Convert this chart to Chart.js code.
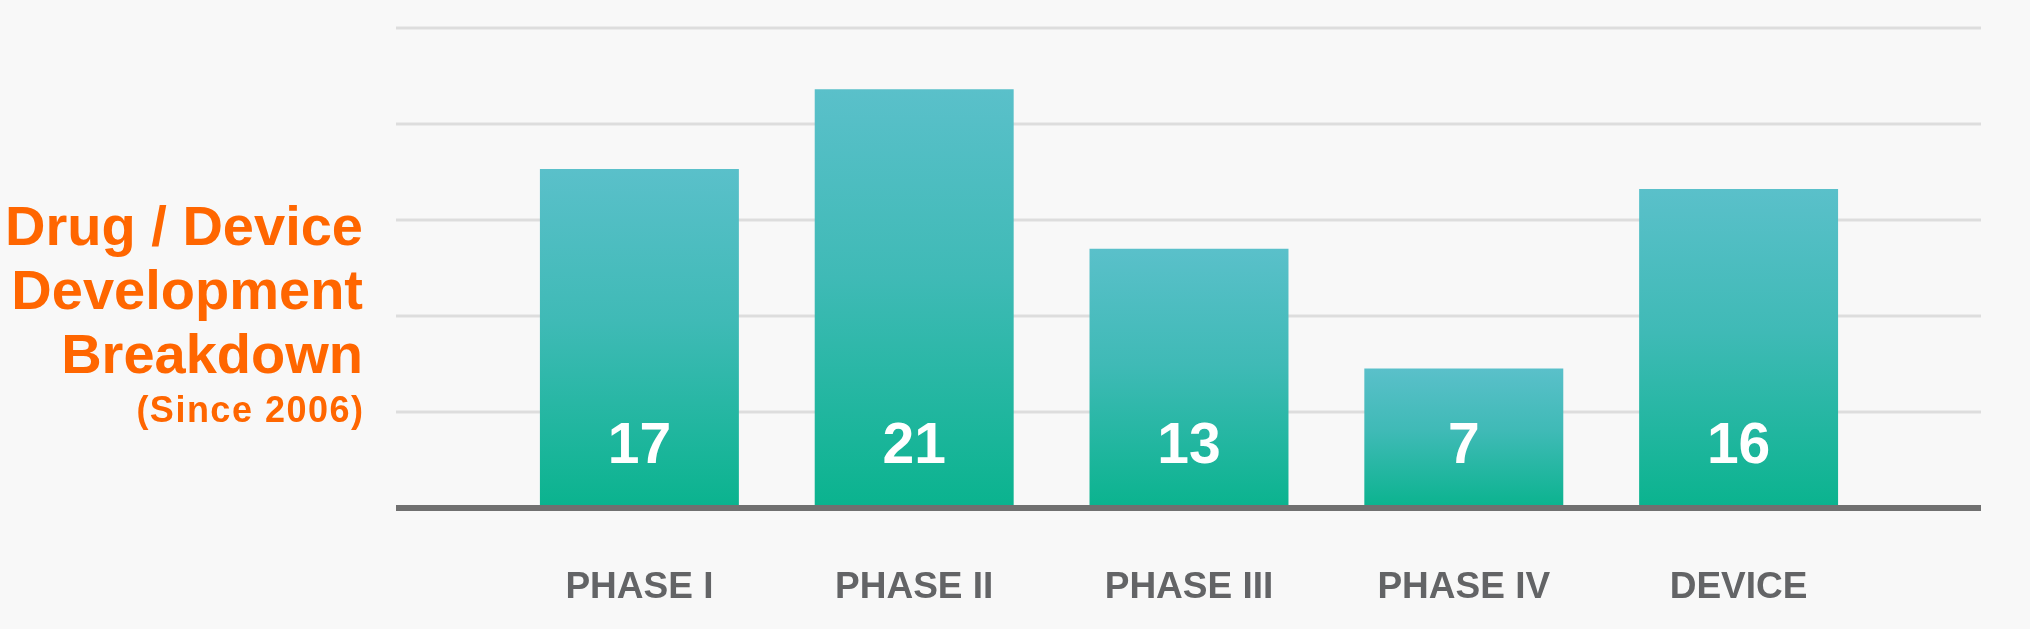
<!DOCTYPE html>
<html>
<head>
<meta charset="utf-8">
<script src="https://cdn.jsdelivr.net/npm/chart.js@4.4.1/dist/chart.umd.min.js"></script>
<style>
  html, body { margin: 0; padding: 0; background: #f8f8f8; }
  #wrap { position: relative; width: 2030px; height: 629px; }
  #title {
    position: absolute; right: calc(2030px - 363px); top: 194px;
    text-align: right; color: #ff6600;
    font-family: "Liberation Sans", Arial, sans-serif; font-weight: bold;
    white-space: nowrap;
  }
  #title .big { font-size: 56px; line-height: 64px; }
  #title .small { font-size: 36px; line-height: 47px; letter-spacing: 1.5px; margin-right: -1.5px; }
  canvas { position: absolute; left: 0; top: 0; }
</style>
</head>
<body>
<div id="wrap">
  <canvas id="chart" width="2030" height="629"></canvas>
  <div id="title">
    <div class="big">Drug / Device</div>
    <div class="big">Development</div>
    <div class="big">Breakdown</div>
    <div class="small">(Since 2006)</div>
  </div>
</div>
<script>
// Data
const categories = ['PHASE I', 'PHASE II', 'PHASE III', 'PHASE IV', 'DEVICE'];
const counts     = [17, 21, 13, 7, 16];
// Grid lines are evenly spaced but not on round numbers
const gridValues = [0, 4.814, 9.628, 14.442, 19.256, 24.07];

const BAR_TOP    = '#5ac0ca';
const BAR_BOTTOM = '#0ab38e';

function barGradient(ctx) {
  const chart = ctx.chart;
  const y = chart.scales.y;
  if (!chart.chartArea || !y || ctx.raw === undefined) return BAR_BOTTOM;
  const top = y.getPixelForValue(ctx.raw);
  const bottom = y.getPixelForValue(0);
  const g = chart.ctx.createLinearGradient(0, top, 0, bottom);
  g.addColorStop(0, BAR_TOP);
  g.addColorStop(0.45, '#3fbab6');
  g.addColorStop(1, BAR_BOTTOM);
  return g;
}

// Grid lines run wider than the bar area, and the base line is drawn on top of the bars
const gridPlugin = {
  id: 'wideGrid',
  beforeDatasetsDraw(chart) {
    const { ctx, chartArea } = chart;
    const y = chart.scales.y;
    const left = chartArea.left - 106;
    const right = chartArea.right + 105;
    ctx.save();
    ctx.strokeStyle = '#dddddd';
    ctx.lineWidth = 3;
    y.ticks.forEach(t => {
      if (t.value === 0) return;
      const py = Math.round(y.getPixelForValue(t.value));
      ctx.beginPath();
      ctx.moveTo(left, py);
      ctx.lineTo(right, py);
      ctx.stroke();
    });
    ctx.restore();
  },
  afterDatasetsDraw(chart) {
    const { ctx, chartArea } = chart;
    const y = chart.scales.y;
    const left = chartArea.left - 106;
    const right = chartArea.right + 105;
    const py = y.getPixelForValue(0);
    ctx.save();
    ctx.strokeStyle = '#707070';
    ctx.lineWidth = 6;
    ctx.beginPath();
    ctx.moveTo(left, py);
    ctx.lineTo(right, py);
    ctx.stroke();

    // value labels sit at a fixed height above the base line
    const meta = chart.getDatasetMeta(0);
    ctx.fillStyle = '#ffffff';
    ctx.font = 'bold 57px "Liberation Sans", Arial, sans-serif';
    ctx.textAlign = 'center';
    ctx.textBaseline = 'alphabetic';
    meta.data.forEach((bar, i) => {
      ctx.fillText(String(counts[i]), bar.x, py - 45);
    });
    ctx.restore();
  },
};

new Chart(document.getElementById('chart'), {
  type: 'bar',
  data: {
    labels: categories,
    datasets: [{
      data: counts,
      backgroundColor: barGradient,
      borderWidth: 0,
      categoryPercentage: 1,
      barPercentage: 0.724,
    }],
  },
  options: {
    responsive: false,
    animation: false,
    layout: { padding: { left: 502, right: 154, top: 28, bottom: 0 } },
    plugins: { legend: { display: false }, tooltip: { enabled: false } },
    scales: {
      x: {
        grid: { display: false, drawTicks: false },
        border: { display: false },
        ticks: {
          color: '#636466',
          padding: 58,
          font: { family: '"Liberation Sans", Arial, sans-serif', size: 37, weight: 'bold' },
        },
        afterFit(scale) { scale.height = 121; },
      },
      y: {
        display: false,
        min: 0,
        max: gridValues[gridValues.length - 1],
        afterBuildTicks(scale) {
          scale.ticks = gridValues.map(v => ({ value: v }));
        },
      },
    },
  },
  plugins: [gridPlugin],
});
</script>
</body>
</html>
